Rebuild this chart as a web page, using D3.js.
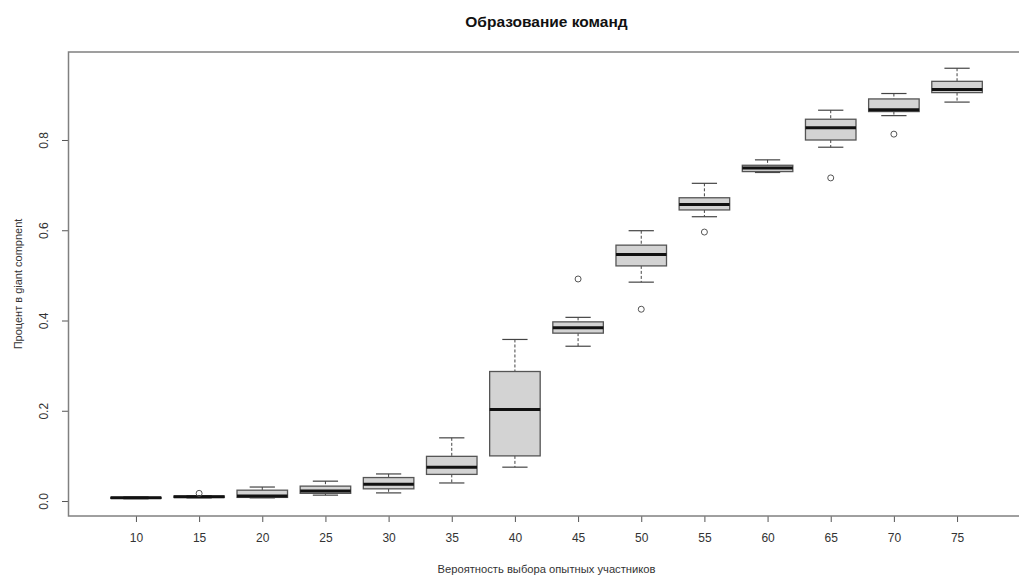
<!DOCTYPE html>
<html>
<head>
<meta charset="utf-8">
<script src="https://cdn.jsdelivr.net/npm/d3@7"></script>
<style>
    body { margin: 0; background: #fff; }
    text { font-family: "Liberation Sans", Arial, sans-serif; }
</style>
</head>
<body>
<div id="chart"></div>
<script>

// Boxplot values
var categories = ["10", "15", "20", "25", "30", "35", "40", "45", "50", "55", "60", "65", "70", "75"];
var lowWhisker = [0.005, 0.007, 0.007, 0.013, 0.018, 0.040, 0.075, 0.343, 0.485, 0.630, 0.728, 0.784, 0.854, 0.884];
var lowerQuartile = [0.006, 0.008, 0.008, 0.017, 0.027, 0.059, 0.100, 0.372, 0.521, 0.645, 0.730, 0.800, 0.863, 0.905];
var medians = [0.007, 0.0095, 0.011, 0.022, 0.037, 0.075, 0.203, 0.384, 0.546, 0.657, 0.738, 0.827, 0.867, 0.912];
var upperQuartile = [0.008, 0.011, 0.024, 0.033, 0.052, 0.099, 0.287, 0.397, 0.567, 0.672, 0.744, 0.846, 0.891, 0.930];
var highWhisker = [0.009, 0.012, 0.031, 0.044, 0.060, 0.140, 0.358, 0.407, 0.599, 0.704, 0.756, 0.866, 0.903, 0.959];
// outliers: [category, value]
var outliers = [["15", 0.017], ["45", 0.492], ["50", 0.425], ["55", 0.596], ["65", 0.716], ["70", 0.813]];
var yTicks = [0.0, 0.2, 0.4, 0.6, 0.8];

var width = 1019, height = 578;
var plot = {left: 69, right: 1024, top: 52, bottom: 516};

var boxes = categories.map(function(c, i) {
    return {cat: c, pos: i + 1, lo: lowWhisker[i], q1: lowerQuartile[i], med: medians[i], q3: upperQuartile[i], hi: highWhisker[i]};
});

var svg = d3.select("#chart").append("svg")
    .attr("width", width)
    .attr("height", height);

// R-style ranges: positions 1..n with 4% padding
var x = d3.scaleLinear()
    .domain([-0.06, categories.length + 1.06])
    .range([plot.left, plot.right]);

var y = d3.scaleLinear()
    .domain([-0.0332, 0.995])
    .range([plot.bottom, plot.top]);

var boxW = x(1.4) - x(0.6);
var capW = boxW / 2;

// axes
var xAxis = svg.append("g")
    .attr("transform", "translate(0," + plot.bottom + ")")
    .call(d3.axisBottom(x)
        .tickValues(boxes.map(function(d) { return d.pos; }))
        .tickFormat(function(d) { return categories[d - 1]; })
        .tickSize(6)
        .tickPadding(11));

var yAxis = svg.append("g")
    .attr("transform", "translate(" + plot.left + ",0)")
    .call(d3.axisLeft(y)
        .tickValues(yTicks)
        .tickFormat(d3.format(".1f"))
        .tickSize(7));

[xAxis, yAxis].forEach(function(g) {
    g.select(".domain").remove();
    g.selectAll(".tick line").attr("stroke", "#555").attr("stroke-width", 1);
    g.selectAll(".tick text")
        .attr("fill", "#333")
        .style("font-size", "12px");
});

yAxis.selectAll(".tick text")
    .attr("x", null).attr("dy", null)
    .attr("text-anchor", "middle")
    .attr("transform", "translate(-25,0) rotate(-90)")
    .attr("dy", "0.35em");

// boxes
var g = svg.append("g");

var box = g.selectAll(".box")
    .data(boxes)
    .enter().append("g")
    .attr("class", "box");

// dashed whiskers
box.append("line")
    .attr("x1", function(d) { return x(d.pos); })
    .attr("x2", function(d) { return x(d.pos); })
    .attr("y1", function(d) { return y(d.hi); })
    .attr("y2", function(d) { return y(d.q3); })
    .attr("stroke", "#444")
    .attr("stroke-dasharray", "3,2");

box.append("line")
    .attr("x1", function(d) { return x(d.pos); })
    .attr("x2", function(d) { return x(d.pos); })
    .attr("y1", function(d) { return y(d.q1); })
    .attr("y2", function(d) { return y(d.lo); })
    .attr("stroke", "#444")
    .attr("stroke-dasharray", "3,2");

// staples
["hi", "lo"].forEach(function(k) {
    box.append("line")
        .attr("x1", function(d) { return x(d.pos) - capW / 2; })
        .attr("x2", function(d) { return x(d.pos) + capW / 2; })
        .attr("y1", function(d) { return y(d[k]); })
        .attr("y2", function(d) { return y(d[k]); })
        .attr("stroke", "#444")
        .attr("stroke-width", 1.2);
});

box.append("rect")
    .attr("x", function(d) { return x(d.pos) - boxW / 2; })
    .attr("width", boxW)
    .attr("y", function(d) { return y(d.q3); })
    .attr("height", function(d) { return Math.max(y(d.q1) - y(d.q3), 0.5); })
    .attr("fill", "#d3d3d3")
    .attr("stroke", "#555")
    .attr("stroke-width", 1.3);

box.append("line")
    .attr("x1", function(d) { return x(d.pos) - boxW / 2; })
    .attr("x2", function(d) { return x(d.pos) + boxW / 2; })
    .attr("y1", function(d) { return y(d.med); })
    .attr("y2", function(d) { return y(d.med); })
    .attr("stroke", "#111")
    .attr("stroke-width", 3);

g.selectAll(".outlier")
    .data(outliers)
    .enter().append("circle")
    .attr("class", "outlier")
    .attr("cx", function(d) { return x(categories.indexOf(d[0]) + 1); })
    .attr("cy", function(d) { return y(d[1]); })
    .attr("r", 3)
    .attr("fill", "none")
    .attr("stroke", "#555")
    .attr("stroke-width", 1);

// frame
svg.append("rect")
    .attr("x", plot.left - 0.5)
    .attr("y", plot.top)
    .attr("width", plot.right - plot.left)
    .attr("height", plot.bottom - plot.top)
    .attr("fill", "none")
    .attr("stroke", "#808080")
    .attr("stroke-width", 1.5);

// titles
var cx = (plot.left + plot.right) / 2;

svg.append("text")
    .attr("x", cx)
    .attr("y", 23)
    .attr("text-anchor", "middle")
    .attr("dominant-baseline", "middle")
    .style("font-size", "15.5px")
    .style("font-weight", "bold")
    .attr("fill", "#111")
    .text("Образование команд");

svg.append("text")
    .attr("x", cx)
    .attr("y", 570)
    .attr("text-anchor", "middle")
    .attr("dominant-baseline", "middle")
    .style("font-size", "11.2px")
    .attr("fill", "#333")
    .text("Вероятность выбора опытных участников");

svg.append("text")
    .attr("transform", "translate(19," + ((plot.top + plot.bottom) / 2) + ") rotate(-90)")
    .attr("text-anchor", "middle")
    .attr("dominant-baseline", "middle")
    .style("font-size", "11px")
    .attr("fill", "#333")
    .text("Процент в giant compnent");

</script>
</body>
</html>
